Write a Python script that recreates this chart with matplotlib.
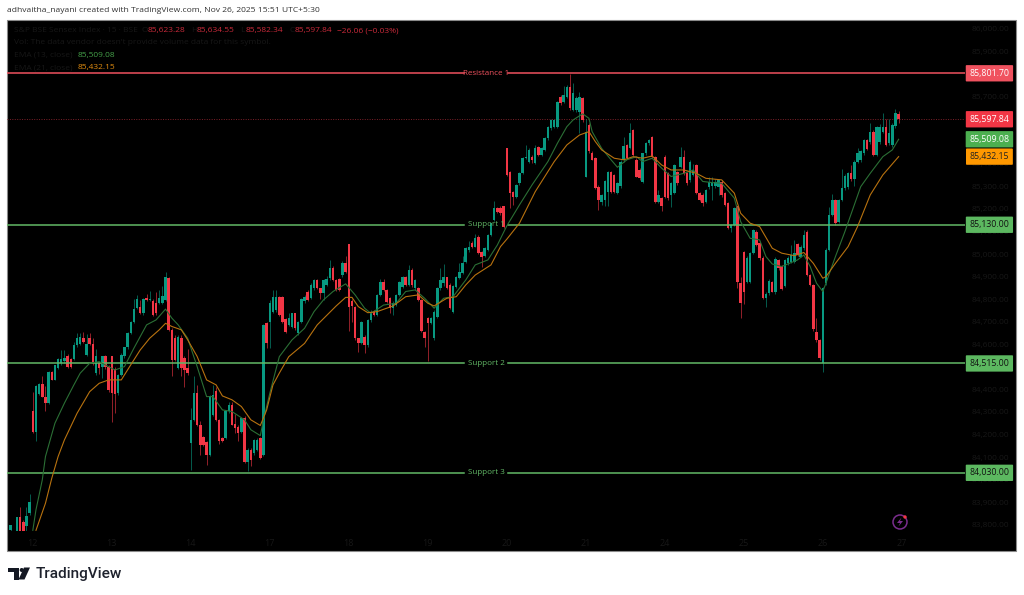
import numpy as np
import matplotlib
matplotlib.use('Agg')
import matplotlib.pyplot as plt
from matplotlib.patches import Rectangle, Circle, Polygon

plt.rcParams['font.family'] = ['Open Sans', 'DejaVu Sans']

# 15 minute candles
open_ = [83775,83760,83772,83836,83812,83792,83851,84302,84210,84380,
         84424,84368,84339,84475,84442,84494,84516,84525,84548,84534,
         84534,84597,84600,84630,84553,84627,84602,84472,84516,84498,
         84548,84500,84546,84490,84383,84464,84546,84587,84649,84701,
         84760,84767,84738,84805,84795,84790,84782,84782,84782,84797,
         84893,84664,84627,84494,84627,84538,84494,84161,84265,84386,
         84243,84191,84165,84110,84287,84395,84265,84184,84184,84302,
         84331,84247,84235,84213,84272,84080,84132,84120,84132,84184,
         84110,84693,84700,84745,84752,84811,84811,84711,84686,84678,
         84737,84649,84700,84790,84833,84804,84848,84885,84848,84826,
         84863,84893,84937,84885,84888,84907,84959,85043,84790,84764,
         84627,84604,84634,84597,84708,84745,84730,84819,84878,84841,
         84804,84760,84775,84819,84856,84900,84863,84930,84848,84848,
         84797,84656,84715,84695,84627,84723,84848,84870,84897,84863,
         84745,84853,84893,84915,84967,85018,85050,85033,85077,85011,
         84992,85018,85085,85151,85203,85203,85211,85469,85366,85277,
         85255,85314,85358,85425,85410,85432,85403,85477,85440,85462,
         85514,85558,85565,85565,85698,85676,85698,85743,85639,85639,
         85632,85691,85344,85573,85450,85425,85299,85233,85240,85277,
         85366,85351,85270,85302,85418,85484,85469,85551,85418,85373,
         85321,85447,85491,85521,85432,85233,85248,85432,85358,85262,
         85270,85366,85388,85432,85358,85329,85351,85395,85270,85262,
         85233,85299,85300,85302,85299,85321,85270,85228,85115,85130,
         85211,84870,85008,84878,84878,85004,85100,85048,84982,84804,
         84826,84878,84831,84974,84945,84860,84959,84967,84967,85045,
         84989,85026,85100,84908,84863,84656,84620,84516,84871,85019,
         85174,85240,85144,85240,85292,85296,85358,85332,85410,85415,
         85447,85506,85499,85543,85440,85499,85543,85565,85491,85484,85568,85623.28]
close = [83799,83765,83836,83772,83772,83840,83900,84210,84413,84424,
         84368,84339,84475,84442,84508,84534,84534,84540,84498,84498,
         84597,84627,84634,84612,84600,84602,84516,84546,84494,84548,
         84501,84398,84383,84380,84464,84553,84587,84649,84701,84756,
         84800,84738,84800,84797,84800,84730,84738,84805,84812,84897,
         84664,84531,84531,84634,84494,84486,84472,84265,84386,84243,
         84154,84154,84110,84371,84375,84265,84169,84169,84302,84331,
         84243,84228,84206,84272,84080,84132,84088,84176,84176,84095,
         84686,84604,84782,84811,84811,84730,84700,84656,84715,84737,
         84671,84700,84800,84811,84797,84863,84885,84848,84826,84885,
         84888,84937,84885,84841,84841,84962,84922,84767,84770,84627,
         84604,84700,84597,84708,84745,84730,84819,84878,84841,84789,
         84760,84782,84819,84878,84897,84863,84930,84863,84885,84797,
         84661,84627,84693,84715,84745,84848,84885,84900,84848,84760,
         84859,84897,84922,84959,85026,85033,85030,85073,85003,84989,
         85026,85085,85137,85203,85185,85180,85122,85351,85270,85255,
         85307,85358,85425,85432,85462,85418,85469,85440,85469,85514,
         85565,85595,85595,85676,85669,85706,85743,85647,85713,85691,
         85698,85595,85543,85455,85418,85292,85240,85262,85326,85366,
         85277,85277,85314,85410,85480,85425,85539,85440,85344,85336,
         85447,85491,85506,85432,85233,85262,85211,85255,85248,85314,
         85395,85314,85432,85358,85314,85410,85373,85270,85240,85225,
         85285,85321,85321,85321,85329,85262,85218,85115,85130,85203,
         84878,84782,84834,84982,85004,85107,85041,84982,84804,84823,
         84881,84834,84979,84937,84846,84974,84982,84996,85004,84996,
         85033,85085,84908,84863,84667,84617,84538,84848,85019,85174,
         85240,85137,85240,85292,85347,85358,85332,85410,85450,85455,
         85506,85465,85543,85440,85565,85565,85565,85484,85539,85573,85625,85597.84]
high = [83800,83770,83836,83878,83820,83878,83937,84390,84420,84430,
        84460,84413,84480,84480,84510,84540,84575,84575,84556,84540,
        84610,84650,84650,84655,84645,84650,84630,84580,84520,84550,
        84552,84510,84550,84500,84470,84560,84590,84655,84705,84800,
        84820,84795,84805,84825,84835,84800,84830,84840,84860,84920,
        84900,84670,84640,84640,84640,84550,84580,84317,84460,84420,
        84260,84195,84170,84375,84420,84410,84270,84190,84310,84345,
        84345,84290,84240,84275,84280,84140,84140,84180,84185,84190,
        84690,84700,84795,84840,84841,84815,84815,84715,84740,84740,
        84740,84705,84805,84820,84840,84870,84890,84890,84850,84890,
        84905,84974,84945,84890,84895,84970,84990,85045,84800,84770,
        84630,84705,84640,84712,84750,84750,84825,84890,84890,84845,
        84810,84790,84825,84880,84905,84905,84950,84940,84890,84855,
        84800,84660,84720,84720,84750,84855,84937,84956,84900,84870,
        84865,84905,84960,84990,85030,85060,85060,85090,85085,85015,
        85030,85090,85140,85235,85210,85215,85215,85472,85370,85280,
        85312,85365,85430,85484,85470,85440,85484,85480,85475,85520,
        85570,85600,85600,85680,85705,85746,85750,85800,85760,85700,
        85720,85695,85600,85580,85455,85430,85305,85265,85330,85370,
        85370,85355,85320,85415,85520,85490,85580,85556,85425,85380,
        85450,85495,85510,85525,85435,85285,85255,85440,85365,85320,
        85400,85370,85474,85460,85365,85415,85400,85400,85275,85270,
        85290,85340,85340,85335,85335,85330,85275,85232,85135,85210,
        85215,84900,85015,84990,85010,85112,85105,85052,84990,84830,
        84888,84882,84985,84980,84950,84980,84990,85041,85063,85050,
        85040,85107,85105,84912,84868,84716,84625,84855,85025,85210,
        85265,85245,85245,85376,85355,85365,85395,85415,85470,85460,
        85510,85510,85580,85548,85570,85575,85627,85600,85600,85580,85645,85634.55]
low = [83772,83750,83770,83770,83770,83770,83845,84207,84169,84375,
       84365,84302,84335,84440,84440,84490,84510,84515,84495,84495,
       84530,84590,84595,84605,84548,84595,84510,84465,84470,84450,
       84490,84390,84257,84295,84375,84460,84540,84580,84645,84695,
       84755,84735,84730,84790,84790,84725,84730,84780,84780,84790,
       84660,84460,84525,84490,84460,84410,84465,84043,84260,84238,
       84110,84150,84065,84105,84280,84260,84160,84165,84180,84295,
       84240,84205,84170,84205,84075,84036,84060,84110,84125,84090,
       84105,84582,84582,84740,84745,84725,84695,84650,84680,84670,
       84665,84640,84695,84785,84790,84800,84840,84845,84800,84797,
       84860,84885,84880,84835,84835,84900,84915,84660,84700,84620,
       84567,84600,84560,84590,84700,84725,84725,84815,84835,84785,
       84740,84730,84770,84815,84850,84860,84860,84855,84840,84790,
       84655,84590,84528,84690,84620,84715,84840,84860,84845,84755,
       84740,84848,84888,84910,84960,85010,85025,85030,85000,84944,
       84985,85015,85080,85145,85180,85175,85115,85345,85203,85218,
       85250,85308,85355,85420,85405,85405,85398,85435,85435,85455,
       85505,85550,85560,85560,85660,85670,85690,85640,85635,85630,
       85535,85585,85340,85450,85415,85288,85196,85218,85215,85215,
       85270,85270,85265,85295,85410,85420,85465,85435,85340,85330,
       85315,85440,85485,85425,85228,85225,85190,85250,85240,85210,
       85265,85305,85380,85350,85305,85320,85345,85265,85235,85215,
       85225,85290,85240,85295,85260,85255,85215,85110,85100,85125,
       84850,84715,84780,84870,84870,85000,85035,84975,84800,84767,
       84820,84830,84825,84930,84840,84855,84950,84960,84960,84990,
       84985,85020,84903,84860,84660,84610,84530,84479,84865,85015,
       85170,85130,85140,85235,85285,85290,85325,85300,85405,85410,
       85440,85460,85490,85435,85435,85490,85535,85480,85485,85475,85560,85582.34]

# EMA lines, vertices (bar number, value)
ema13_bar = [7,8,10,11,14,17,20,22,25,28,33,36,39,43,46,49,51,53,56,59,62,64,67,70,74,76,79,80,82,
             85,89,93,96,99,102,106,109,112,114,118,122,125,128,131,134,137,140,144,147,151,154,157,
             161,165,170,173,176,178,181,183,184,187,190,192,195,198,200,203,206,209,213,216,219,222,
             225,229,231,234,237,239,241,244,249,251,253,255,257,258,261,264,269,272,276,279,281]
ema13_val = [83775,83866,83999,84102,84250,84339,84420,84472,84516,84523,84486,84501,84583,84686,84708,84756,
             84716,84686,84627,84501,84368,84368,84309,84302,84265,84221,84195,84265,84383,
             84545,84619,84671,84745,84797,84834,84868,84819,84760,84737,84774,84782,84834,84841,84804,
             84760,84804,84811,84885,84952,84974,85040,85125,
             85218,85307,85410,85491,85565,85595,85622,85602,85543,85469,85418,85385,85418,85432,85410,
             85425,85381,85344,85358,85373,85322,85317,85314,85248,85144,85070,85063,84989,84956,84945,
             84974,84996,84945,84871,84834,84871,84989,85100,85299,85358,85432,85462,85509.08]
ema21_bar = [8,11,13,15,17,21,25,28,31,35,38,41,44,47,49,51,54,56,59,62,65,67,70,73,76,79,81,83,85,
             88,93,97,103,106,108,110,113,116,121,125,129,132,134,138,141,144,147,152,155,157,
             161,166,172,176,180,183,185,187,191,194,197,200,203,206,209,213,217,220,225,229,
             231,234,237,241,244,248,251,254,257,258,261,265,268,272,276,281]
ema21_val = [83775,83895,84006,84102,84176,84294,84390,84427,84442,84442,84509,84575,84627,84664,84693,84679,
             84664,84620,84546,84442,84420,84371,84354,84324,84265,84240,84309,84420,84472,
             84545,84604,84686,84770,84808,84808,84767,84740,84745,84770,84811,84819,84782,84770,84804,
             84811,84863,84907,84952,85033,85066,
             85137,85277,85410,85484,85528,85543,85499,85462,85425,85418,85432,85425,85435,85395,85373,
             85373,85358,85336,85329,85270,85181,85137,85122,85026,85004,84993,85007,84959,84893,84900,
             84959,85033,85122,85262,85351,85432.15]

price_ticks = list(range(83800, 86001, 100))
day_labels = ['12', '13', '14', '17', '18', '19', '20', '21', '24', '25', '26', '27']
day_bars = [7, 32, 57, 82, 107, 132, 157, 182, 207, 232, 257, 282]

levels = [85801.70, 85130.00, 84515.00, 84030.00]
level_names = ['Resistance 1', 'Support 1', 'Support 2', 'Support 3']
level_colors = ['#f0525f', '#62b866', '#62b866', '#62b866']
last_price = 85597.84
ema13_last = 85509.08
ema21_last = 85432.15

UP = '#089981'
DOWN = '#f23645'
GHOST = '#171717'
W, H = 1024, 595

fig = plt.figure(figsize=(W / 100, H / 100), dpi=100, facecolor='white')

# page layer in pixel coordinates: frame, header, legend, logo
bg = fig.add_axes([0, 0, 1, 1], zorder=0)
bg.set_xlim(0, W)
bg.set_ylim(H, 0)
bg.axis('off')
bg.add_patch(Rectangle((7, 20), 1009, 531, fc='black', ec='#8a8a8a', lw=0.8))

bg.text(7, 11, 'adhvaitha_nayani created with TradingView.com, Nov 26, 2025 15:51 UTC+5:30',
        fontsize=6.1, color='#333333', va='center')

bg.text(14, 30.5, 'S&P BSE Sensex Index · 15 · BSE', fontsize=6, color=GHOST, va='center')
for x, lab, val in [(142, 'O', '85,623.28'), (191, 'H', '85,634.55'), (240, 'L', '85,582.34'),
                    (289, 'C', '85,597.84')]:
    bg.text(x, 30.5, lab, fontsize=6, color=GHOST, va='center')
    bg.text(x + 6, 30.5, val, fontsize=6, color='#c92a3a', va='center')
bg.text(337, 30.5, '−26.06 (−0.03%)', fontsize=6, color='#c92a3a', va='center')
bg.text(14, 43, "Vol: The data vendor doesn't provide volume data for this symbol.",
        fontsize=6, color=GHOST, va='center')
bg.text(14, 55.5, 'EMA (13, close)', fontsize=6, color=GHOST, va='center')
bg.text(78, 55.5, '85,509.08', fontsize=6, color='#45a049', va='center')
bg.text(14, 68, 'EMA (21, close)', fontsize=6, color=GHOST, va='center')
bg.text(78, 68, '85,432.15', fontsize=6, color='#e08c10', va='center')

# logo
bg.add_patch(Polygon([(8, 567.5), (19, 567.5), (19, 579.5), (13.5, 579.5), (13.5, 571.5), (8, 571.5)],
                     fc='#131722', ec='none'))
bg.add_patch(Circle((21.7, 570), 2, fc='#131722', ec='none'))
bg.add_patch(Polygon([(24, 567.5), (30, 567.5), (24.5, 579.5), (18.5, 579.5)], fc='#131722', ec='none'))
bg.text(36, 574, 'TradingView', family='Roboto', fontsize=11.1, weight='medium',
        color='#1e222d', va='center')

# bolt icon
bg.add_patch(Circle((900, 522), 7, fc='none', ec='#7b2d8e', lw=1.1))
bg.add_patch(Polygon([(901.5, 517.5), (897, 523), (900, 523), (898.5, 526.5), (903, 521), (900, 521)],
                     fc='#7b2d8e', ec='none'))
bg.add_patch(Circle((905, 517), 1.7, fc='#f23645', ec='none'))

# price chart; its bottom edge cuts the candles as in the screenshot
ax = fig.add_axes([7 / W, 1 - 531 / H, 958 / W, 511 / H], zorder=1)
ax.patch.set_alpha(0)
for s in ax.spines.values():
    s.set_visible(False)

bars = np.arange(len(close))
op = np.array(open_)
cl = np.array(close)
colors = [UP if c >= o else DOWN for o, c in zip(op, cl)]

ax.vlines(bars, low, high, colors=colors, lw=0.6, alpha=0.7, zorder=2)
ax.bar(bars, np.maximum(np.abs(cl - op), 4), bottom=np.minimum(op, cl), width=0.78, color=colors,
       linewidth=0, zorder=2.1)

ax.plot(ema13_bar, ema13_val, color='#2b6f35', lw=0.8, zorder=3)
ax.plot(ema21_bar, ema21_val, color='#b8720f', lw=0.8, zorder=3)

ax.set_xlim(-1.17, 302)
ax.set_ylim(83772, 86038)

ax.axhline(last_price, color='#7d2029', lw=0.7, ls=(0, (1, 1.5)), zorder=1)

for lev, name, col in zip(levels, level_names, level_colors):
    ax.plot([-1.17, 143.5], [lev, lev], color=col, lw=1.1, zorder=2.5)
    ax.plot([157.5, 302], [lev, lev], color=col, lw=1.1, zorder=2.5)
    ax.text(150.4, lev, name, color=col, fontsize=5.8, ha='center', va='center', zorder=4)

ax.yaxis.tick_right()
ax.set_yticks(price_ticks)
ax.set_yticklabels([f'{p:,.2f}' for p in price_ticks], fontsize=6, color=GHOST)
ax.set_xticks(day_bars)
ax.set_xticklabels(day_labels, fontsize=6.5, color=GHOST)
ax.tick_params(axis='both', length=0)
ax.tick_params(axis='y', pad=5)
ax.tick_params(axis='x', pad=5.5)

# price tags on the axis
tags = [(levels[0], '#f0525f', 'white'), (last_price, '#f23645', 'white'),
        (ema13_last, '#4caf50', 'white'), (ema21_last, '#ff9800', '#222222'),
        (levels[1], '#5cb860', '#111111'), (levels[2], '#5cb860', '#111111'),
        (levels[3], '#5cb860', '#111111')]
for val, fc, tc in tags:
    ax.text(1.0255, val, f'{val:,.2f}', transform=ax.get_yaxis_transform(), fontsize=6.3, color=tc,
            ha='center', va='center', zorder=5, clip_on=False,
            bbox=dict(boxstyle='round,pad=0.42,rounding_size=0.1', fc=fc, ec='none'))

fig.savefig('out.png', dpi=100, facecolor='white')
